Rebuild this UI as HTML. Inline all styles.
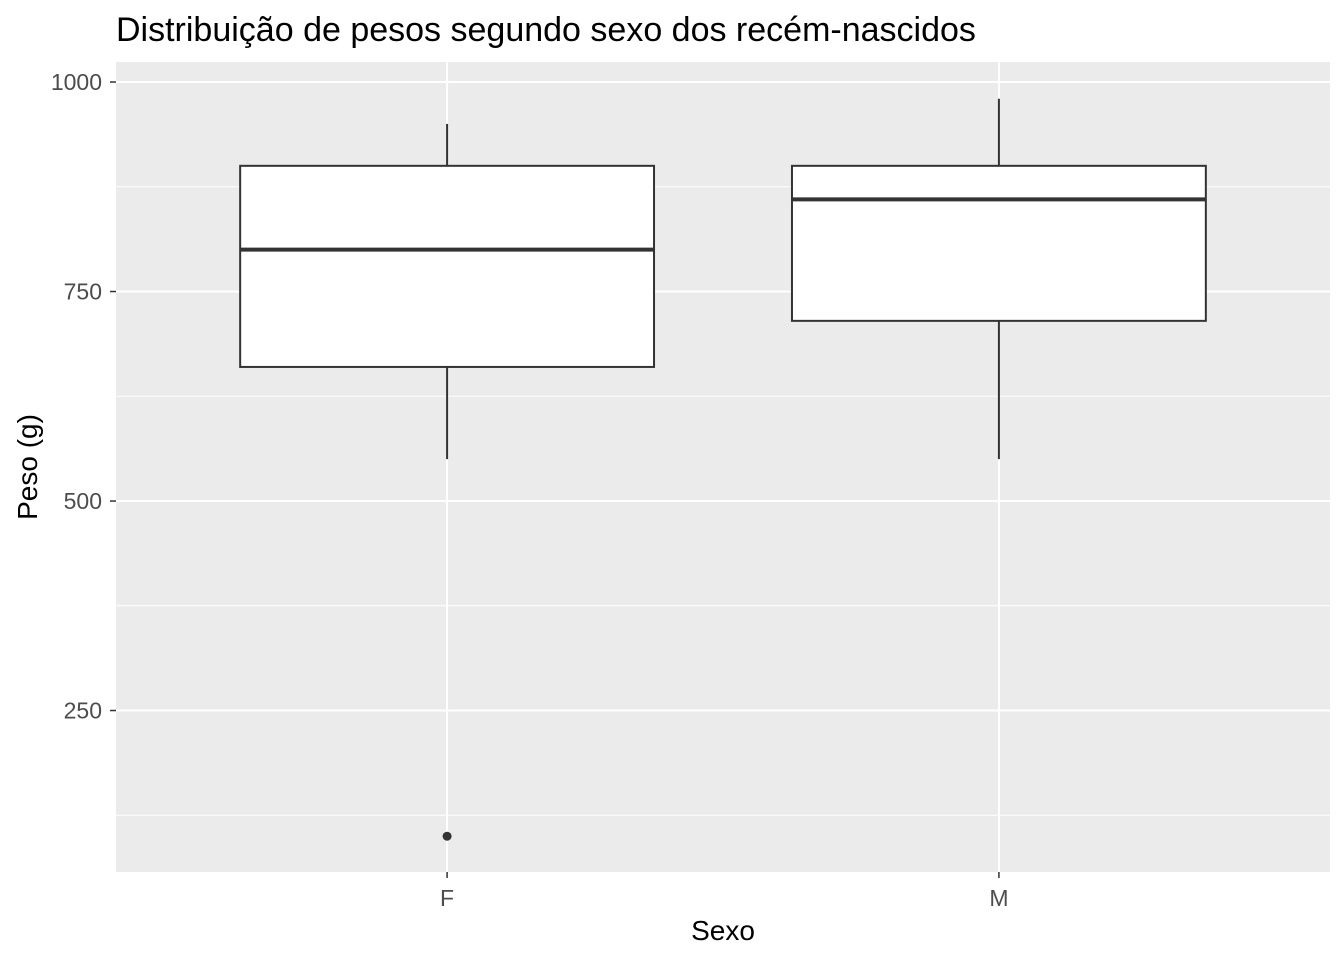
<!DOCTYPE html>
<html><head><meta charset="utf-8"><style>
body{margin:0;background:#fff;}
svg{display:block;font-family:"Liberation Sans",Arial,sans-serif;}
</style></head><body>
<svg id="c" width="1344" height="960"></svg>
<script>
const categories = ["F","M"];
const lowerWhisker = [550,550];
const q1 = [660,715];
const median = [800,860];
const q3 = [900,900];
const upperWhisker = [950,980];
const outliers = [[100],[]];
const yTicks = [250,500,750,1000];
const yMinor = [125,375,625,875];

const NS="http://www.w3.org/2000/svg";
const svg=document.getElementById('c');
const L=116,R=1330,T=62,B=872;
const yMin=57.3,yMax=1023.9;
function y(v){return B-(v-yMin)/(yMax-yMin)*(B-T);}
const xLo=0.4,xHi=categories.length+0.6;
function xu(u){return L+(u-xLo)/(xHi-xLo)*(R-L);}
function x(i){return xu(i+1);}
const halfW=(xu(1.375)-xu(1));
function el(tag,attrs,parent){const e=document.createElementNS(NS,tag);for(const k in attrs)e.setAttribute(k,attrs[k]);(parent||svg).appendChild(e);return e;}

const panel=el('rect',{x:L,y:T,width:R-L,height:B-T,fill:'#ebebeb'});



yMinor.forEach(v=>{const g=el('line',{x1:L,x2:R,y1:y(v),y2:y(v),stroke:'#fff','stroke-width':1});

});
yTicks.forEach(v=>{const g=el('line',{x1:L,x2:R,y1:y(v),y2:y(v),stroke:'#fff','stroke-width':2});


const t=el('line',{x1:L-6,x2:L,y1:y(v),y2:y(v),stroke:'#333','stroke-width':1.5});


const lb=el('text',{x:L-14,y:y(v)+8,'text-anchor':'end','font-size':23,fill:'#4d4d4d'});
lb.textContent=v;

});
categories.forEach((c,i)=>{const g=el('line',{x1:x(i),x2:x(i),y1:T,y2:B,stroke:'#fff','stroke-width':2});


const t=el('line',{x1:x(i),x2:x(i),y1:B,y2:B+6,stroke:'#333','stroke-width':1.5});


const lb=el('text',{x:x(i),y:B+34,'text-anchor':'middle','font-size':23,fill:'#4d4d4d'});
lb.textContent=c;

});

categories.forEach((c,i)=>{
const g=el('g',{});


el('line',{x1:x(i),x2:x(i),y1:y(upperWhisker[i]),y2:y(q3[i]),stroke:'#333','stroke-width':2},g);
el('line',{x1:x(i),x2:x(i),y1:y(q1[i]),y2:y(lowerWhisker[i]),stroke:'#333','stroke-width':2},g);
el('rect',{x:x(i)-halfW,y:y(q3[i]),width:2*halfW,height:y(q1[i])-y(q3[i]),fill:'#fff',stroke:'#333','stroke-width':2},g);
el('line',{x1:x(i)-halfW,x2:x(i)+halfW,y1:y(median[i]),y2:y(median[i]),stroke:'#333','stroke-width':4},g);
outliers[i].forEach(o=>{const p=el('circle',{cx:x(i),cy:y(o),r:4.5,fill:'#333'},g);

});
});

const title=el('text',{x:116,y:41,'font-size':34,fill:'#000'});
title.textContent='Distribuição de pesos segundo sexo dos recém-nascidos';


const xt=el('text',{x:(L+R)/2,y:940,'text-anchor':'middle','font-size':28,fill:'#000'});
xt.textContent='Sexo';


const yt=el('text',{x:0,y:0,'text-anchor':'middle','font-size':28,fill:'#000',transform:'translate(37,'+((T+B)/2)+') rotate(-90)'});
yt.textContent='Peso (g)';


</script>
</body></html>
